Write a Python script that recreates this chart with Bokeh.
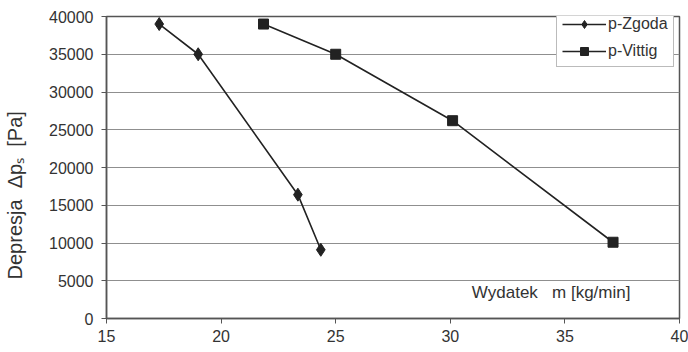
from bokeh.plotting import figure
from bokeh.models import Range1d, FixedTicker, Legend, LegendItem, Label
from bokeh.embed import file_html
from bokeh.resources import INLINE

# data
zgoda_x = [17.3, 19.0, 23.35, 24.35]
zgoda_y = [39000, 35000, 16400, 9100]
vittig_x = [21.85, 25.0, 30.1, 37.1]
vittig_y = [39000, 35000, 26200, 10100]
x_ticks = [15, 20, 25, 30, 35, 40]
y_ticks = [0, 5000, 10000, 15000, 20000, 25000, 30000, 35000, 40000]
series_names = ["p-Zgoda", "p-Vittig"]
NB = "\u00a0"
x_label = "Wydatek" + NB * 3 + "m [kg/min]"
# trailing no-break spaces shift the centred title toward the bottom, as in the original
y_label = "Depresja" + NB * 2 + "Δpₛ" + NB * 2 + "[Pa]" + NB * 10

FONT = "Liberation Sans"
DARK = "#222222"
TXT = "#333333"

p = figure(width=688, height=352, output_backend="svg", toolbar_location=None,
           x_range=Range1d(15, 40), y_range=Range1d(0, 40000),
           min_border_left=106, min_border_right=9, min_border_top=16, min_border_bottom=34)

p.background_fill_color = "white"
p.border_fill_color = "white"
p.outline_line_color = "#555555"
p.outline_line_width = 1.5

p.xgrid.grid_line_color = None
p.ygrid.grid_line_color = "#8f8f8f"
p.ygrid.grid_line_width = 1

p.xaxis.ticker = FixedTicker(ticks=x_ticks)
p.yaxis.ticker = FixedTicker(ticks=y_ticks)
for ax in (p.xaxis, p.yaxis):
    ax.axis_line_color = "#555555"
    ax.axis_line_width = 1.5
    ax.major_tick_line_color = "#555555"
    ax.major_tick_out = 5
    ax.major_tick_in = 0
    ax.minor_tick_line_color = None
    ax.major_label_text_font = FONT
    ax.major_label_text_font_size = "16px"
    ax.major_label_text_color = TXT
p.yaxis.major_label_standoff = 8
p.xaxis.major_label_standoff = 6

p.yaxis.axis_label = y_label
p.yaxis.axis_label_text_font = FONT
p.yaxis.axis_label_text_font_size = "20px"
p.yaxis.axis_label_text_font_style = "normal"
p.yaxis.axis_label_text_color = TXT
p.yaxis.axis_label_standoff = 20

r1l = p.line(zgoda_x, zgoda_y, line_color=DARK, line_width=1.6)
r1m = p.scatter(zgoda_x, zgoda_y, marker="diamond", size=13, fill_color=DARK, line_color=DARK)
r2l = p.line(vittig_x, vittig_y, line_color=DARK, line_width=1.6)
r2m = p.scatter(vittig_x, vittig_y, marker="square", size=10, fill_color=DARK, line_color=DARK)

# x-axis title inside the plot area
p.add_layout(Label(x=34.4, y=3400, text=x_label, text_font=FONT, text_font_size="17px",
                   text_color=TXT, text_align="center", text_baseline="middle"))

legend = Legend(items=[LegendItem(label=series_names[0], renderers=[r1l, r1m]),
                       LegendItem(label=series_names[1], renderers=[r2l, r2m])],
                location=(450, 251))
legend.border_line_color = "#777777"
legend.border_line_width = 1
legend.background_fill_color = "white"
legend.background_fill_alpha = 1
legend.label_text_font = FONT
legend.label_text_font_size = "16px"
legend.label_text_color = TXT
legend.glyph_width = 44
legend.glyph_height = 20
legend.spacing = 7
legend.padding = 5
legend.margin = 0
legend.label_standoff = 2
p.add_layout(legend)

open("out.html", "w").write(file_html(p, INLINE))
